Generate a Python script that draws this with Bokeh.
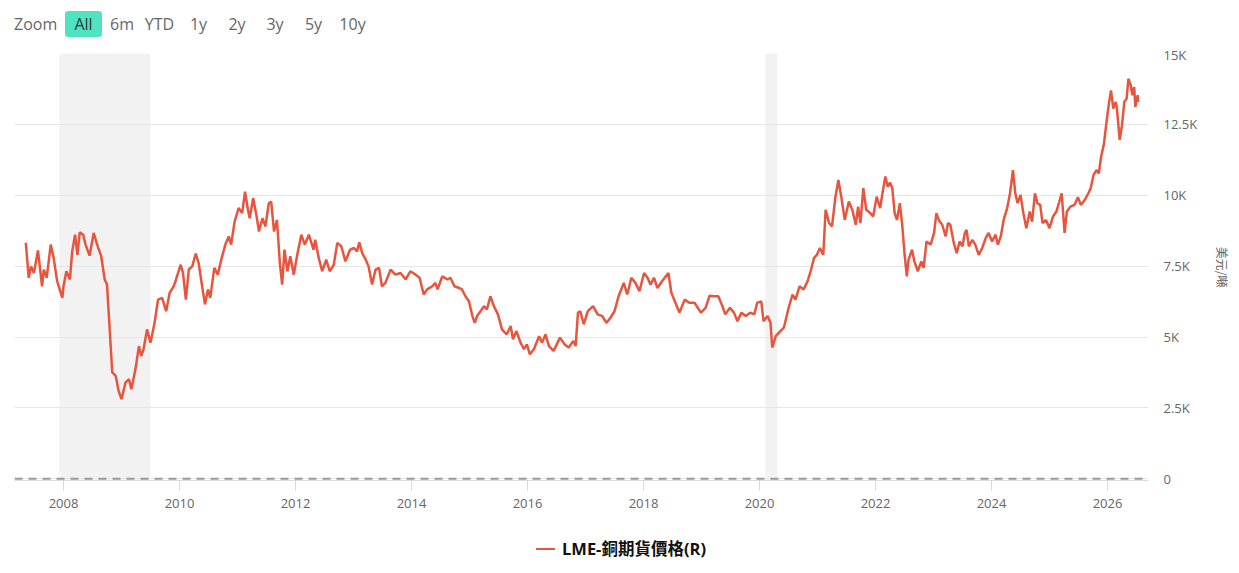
from bokeh.plotting import figure
from bokeh.models import (Range1d, FixedTicker, Span, BoxAnnotation, Div)
from bokeh.layouts import column
from bokeh.embed import file_html
from bokeh.resources import INLINE

# ---- data ----
dates = [
    2007.35, 2007.40, 2007.44, 2007.49, 2007.56, 2007.63, 2007.66, 2007.71, 2007.78, 2007.83,
    2007.89, 2007.98, 2008.00, 2008.05, 2008.11, 2008.15, 2008.20, 2008.24, 2008.28, 2008.34,
    2008.38, 2008.45, 2008.52, 2008.59, 2008.65, 2008.71, 2008.75, 2008.80, 2008.84, 2008.90,
    2008.95, 2009.00, 2009.07, 2009.13, 2009.17, 2009.24, 2009.30, 2009.34, 2009.38, 2009.44,
    2009.50, 2009.57, 2009.63, 2009.70, 2009.77, 2009.83, 2009.90, 2009.94, 2010.02, 2010.06,
    2010.11, 2010.16, 2010.22, 2010.28, 2010.33, 2010.39, 2010.44, 2010.49, 2010.53, 2010.60,
    2010.66, 2010.72, 2010.79, 2010.85, 2010.89, 2010.95, 2011.02, 2011.08, 2011.13, 2011.18,
    2011.21, 2011.27, 2011.33, 2011.37, 2011.43, 2011.48, 2011.54, 2011.58, 2011.63, 2011.68,
    2011.73, 2011.77, 2011.81, 2011.86, 2011.91, 2011.97, 2012.03, 2012.10, 2012.16, 2012.23,
    2012.31, 2012.34, 2012.40, 2012.46, 2012.53, 2012.59, 2012.66, 2012.72, 2012.79, 2012.86,
    2012.94, 2013.01, 2013.06, 2013.10, 2013.15, 2013.21, 2013.26, 2013.32, 2013.38, 2013.44,
    2013.49, 2013.55, 2013.64, 2013.72, 2013.81, 2013.90, 2013.98, 2014.07, 2014.14, 2014.21,
    2014.27, 2014.36, 2014.41, 2014.45, 2014.53, 2014.62, 2014.67, 2014.74, 2014.82, 2014.87,
    2014.93, 2014.99, 2015.05, 2015.09, 2015.13, 2015.19, 2015.25, 2015.30, 2015.36, 2015.42,
    2015.49, 2015.56, 2015.64, 2015.71, 2015.75, 2015.81, 2015.88, 2015.94, 2015.99, 2016.04,
    2016.11, 2016.20, 2016.25, 2016.31, 2016.37, 2016.45, 2016.56, 2016.64, 2016.71, 2016.79,
    2016.83, 2016.87, 2016.91, 2016.97, 2017.04, 2017.13, 2017.21, 2017.29, 2017.36, 2017.43,
    2017.50, 2017.57, 2017.66, 2017.72, 2017.79, 2017.86, 2017.93, 2018.01, 2018.07, 2018.12,
    2018.18, 2018.24, 2018.32, 2018.43, 2018.48, 2018.55, 2018.62, 2018.71, 2018.79, 2018.88,
    2018.99, 2019.07, 2019.14, 2019.22, 2019.29, 2019.36, 2019.41, 2019.49, 2019.56, 2019.62,
    2019.69, 2019.76, 2019.84, 2019.91, 2019.96, 2020.03, 2020.07, 2020.14, 2020.19, 2020.22,
    2020.28, 2020.36, 2020.42, 2020.51, 2020.57, 2020.62, 2020.69, 2020.76, 2020.83, 2020.89,
    2020.94, 2020.99, 2021.04, 2021.10, 2021.14, 2021.20, 2021.25, 2021.31, 2021.36, 2021.41,
    2021.47, 2021.54, 2021.60, 2021.66, 2021.70, 2021.74, 2021.79, 2021.84, 2021.91, 2021.96,
    2022.02, 2022.08, 2022.12, 2022.17, 2022.21, 2022.25, 2022.29, 2022.33, 2022.37, 2022.42,
    2022.46, 2022.50, 2022.54, 2022.57, 2022.63, 2022.67, 2022.73, 2022.79, 2022.83, 2022.88,
    2022.95, 2023.01, 2023.05, 2023.09, 2023.15, 2023.21, 2023.25, 2023.29, 2023.35, 2023.40,
    2023.45, 2023.50, 2023.54, 2023.57, 2023.61, 2023.67, 2023.72, 2023.78, 2023.84, 2023.90,
    2023.95, 2024.01, 2024.07, 2024.11, 2024.16, 2024.21, 2024.27, 2024.32, 2024.37, 2024.41,
    2024.45, 2024.50, 2024.55, 2024.60, 2024.66, 2024.70, 2024.75, 2024.79, 2024.84, 2024.88,
    2024.94, 2025.00, 2025.06, 2025.12, 2025.17, 2025.21, 2025.26, 2025.30, 2025.36, 2025.43,
    2025.49, 2025.54, 2025.61, 2025.67, 2025.71, 2025.76, 2025.81, 2025.85, 2025.89, 2025.94,
    2025.98, 2026.02, 2026.06, 2026.10, 2026.14, 2026.16, 2026.21, 2026.25, 2026.29, 2026.33,
    2026.36, 2026.40, 2026.43, 2026.46, 2026.48, 2026.52, 2026.53,
]
copper_price = [
    8320, 7090, 7490, 7260, 8060, 6790, 7380, 7090, 8260, 7790,
    6970, 6380, 6790, 7320, 7030, 8020, 8610, 7900, 8690, 8610,
    8260, 7870, 8670, 8200, 7850, 7030, 6850, 5150, 3750, 3630,
    3100, 2810, 3400, 3510, 3160, 3860, 4680, 4330, 4570, 5270,
    4800, 5500, 6320, 6380, 5910, 6560, 6790, 7030, 7550, 7260,
    6320, 7380, 7490, 7940, 7610, 6790, 6150, 6680, 6380, 7440,
    7200, 7730, 8260, 8550, 8260, 9070, 9550, 9370, 10130, 9490,
    9190, 9900, 9250, 8720, 9190, 8900, 9720, 9780, 8720, 9130,
    7610, 6850, 8080, 7320, 7850, 7200, 7900, 8610, 8260, 8610,
    8080, 8430, 7790, 7320, 7730, 7320, 7550, 8320, 8200, 7670,
    8080, 8140, 8020, 8340, 7960, 7730, 7490, 6850, 7380, 7440,
    6790, 6910, 7380, 7200, 7260, 7030, 7320, 7200, 7090, 6500,
    6680, 6790, 6910, 6680, 7140, 7030, 7090, 6790, 6730, 6680,
    6440, 6260, 5740, 5500, 5740, 5910, 6090, 5970, 6440, 6090,
    5800, 5270, 5090, 5390, 4920, 5210, 4800, 4570, 4740, 4390,
    4570, 5030, 4800, 5090, 4680, 4510, 4980, 4740, 4630, 4860,
    4680, 5860, 5910, 5450, 5910, 6090, 5800, 5740, 5500, 5680,
    5910, 6440, 6910, 6500, 7090, 6910, 6620, 7260, 7090, 6850,
    7090, 6730, 6970, 7260, 6560, 6210, 5860, 6320, 6210, 6210,
    5860, 6030, 6460, 6440, 6440, 6090, 5800, 6030, 5860, 5560,
    5860, 5740, 5860, 5800, 6210, 6260, 5560, 5740, 5500, 4630,
    5030, 5210, 5330, 6090, 6500, 6320, 6790, 6680, 6970, 7380,
    7790, 7900, 8140, 7900, 9490, 9020, 8900, 9950, 10540, 9950,
    9130, 9780, 9490, 8960, 9600, 9020, 10250, 9490, 9370, 9250,
    9950, 9550, 10070, 10660, 10300, 10450, 10250, 9370, 9130, 9720,
    8960, 7960, 7140, 7730, 8080, 7670, 7320, 7670, 7440, 8370,
    8260, 8670, 9370, 9130, 8960, 8550, 9020, 8960, 8320, 7960,
    8370, 8200, 8670, 8780, 8200, 8430, 8260, 7900, 8140, 8490,
    8670, 8370, 8610, 8260, 8550, 9130, 9550, 10070, 10890, 10070,
    9720, 10010, 9370, 8840, 9430, 9070, 10070, 9720, 9660, 9020,
    9130, 8840, 9250, 9430, 9780, 10070, 8670, 9430, 9600, 9660,
    9930, 9660, 9840, 10070, 10250, 10720, 10890, 10770, 11360, 11830,
    12530, 13170, 13700, 13060, 13290, 13120, 11950, 12470, 13290, 13410,
    14110, 13880, 13530, 13820, 13120, 13530, 13290,
]
recession_starts = [2007.93, 2020.10]
recession_ends = [2009.50, 2020.31]
x_tick_values = [2008, 2010, 2012, 2014, 2016, 2018, 2020, 2022, 2024, 2026]
x_tick_labels = ["2008", "2010", "2012", "2014", "2016", "2018", "2020", "2022", "2024", "2026"]
y_tick_values = [0, 2500, 5000, 7500, 10000, 12500, 15000]
y_tick_labels = ["0", "2.5K", "5K", "7.5K", "10K", "12.5K", "15K"]
zero_line = 0
series_name = "LME-銅期貨價格(R)"
y_title = "美元/噸"
range_buttons = ["All", "6m", "YTD", "1y", "2y", "3y", "5y", "10y"]

LINE_COLOR = "#e8553e"
TICK_FONT = "'Open Sans', 'Noto Sans CJK TC', sans-serif"
PAGE_W = 1236

# ---- range selector (decorative) ----
centers = [83.5, 122, 159.5, 198.5, 237, 275, 313.5, 352.5]
spans = ['<span style="position:absolute;left:14px;top:11px;height:26px;line-height:26px;">Zoom</span>']
for i, (lbl, c) in enumerate(zip(range_buttons, centers)):
    left = c - 18.5
    if i == 0:
        style = "background:#4fe3c2;color:#333;border-radius:3px;"
    else:
        style = "color:#666;"
    spans.append(
        f'<span style="position:absolute;left:{left}px;top:11px;width:37px;height:26px;'
        f'line-height:26px;text-align:center;{style}">{lbl}</span>')
top_div = Div(text=(f'<div style="position:relative;width:{PAGE_W}px;height:45px;'
                    "font-family:'Open Sans',sans-serif;font-size:16px;color:#666;\">"
                    + "".join(spans) + "</div>"),
              width=PAGE_W, height=45, margin=0)

# ---- figure ----
p = figure(width=PAGE_W, height=475,
           x_range=Range1d(2007.155, 2026.707), y_range=Range1d(-60, 15000),
           y_axis_location="right", output_backend="svg", toolbar_location=None,
           min_border_left=14, min_border_right=88, min_border_top=8, min_border_bottom=40,
           outline_line_color=None, background_fill_color="white", margin=0)

for s, e in zip(recession_starts, recession_ends):
    p.add_layout(BoxAnnotation(left=s, right=e, fill_color="#f2f2f2", fill_alpha=1.0,
                               line_color=None, level="image"))

r = p.line(dates, copper_price, line_color=LINE_COLOR, line_width=2.5)

p.add_layout(Span(location=zero_line, dimension="width", line_color="#999999",
                  line_width=2, line_dash="8 6"))

# grids
p.xgrid.visible = False
p.ygrid.grid_line_color = "#e6e6e6"
p.ygrid.grid_line_width = 1

# x axis
xa = p.xaxis[0]
xa.ticker = FixedTicker(ticks=x_tick_values)
xa.major_label_overrides = dict(zip(x_tick_values, x_tick_labels))
xa.axis_line_color = "#dcdcdc"
xa.major_tick_line_color = "#d8d8d8"
xa.major_tick_in = 0
xa.major_tick_out = 10
xa.minor_tick_line_color = None
xa.major_label_standoff = 8
xa.major_label_text_font = TICK_FONT
xa.major_label_text_font_size = "13px"
xa.major_label_text_color = "#666666"

# y axis (right)
ya = p.yaxis[0]
ya.ticker = FixedTicker(ticks=y_tick_values)
ya.major_label_overrides = dict(zip(y_tick_values, y_tick_labels))
ya.axis_line_color = None
ya.major_tick_line_color = None
ya.minor_tick_line_color = None
ya.major_tick_in = 0
ya.major_tick_out = 0
ya.major_label_standoff = 15
ya.major_label_text_font = TICK_FONT
ya.major_label_text_font_size = "13px"
ya.major_label_text_color = "#666666"
ya.axis_label = y_title
ya.axis_label_text_font = "'Noto Sans CJK TC', sans-serif"
ya.axis_label_text_font_size = "12px"
ya.axis_label_text_font_style = "normal"
ya.axis_label_text_color = "#666666"
ya.axis_label_standoff = 14

# ---- legend (below the chart, centred on the page) ----
legend_div = Div(text=(
    f'<div style="position:relative;width:{PAGE_W}px;height:50px;">'
    f'<span style="position:absolute;left:536px;top:28px;width:19px;height:2px;background:{LINE_COLOR};"></span>'
    f'<span style="position:absolute;left:562px;top:16px;height:26px;line-height:26px;white-space:nowrap;'
    f"font-weight:bold;font-size:16.5px;font-family:'Open Sans','Noto Sans CJK TC',sans-serif;color:#111;\">"
    f'{series_name}</span></div>'),
    width=PAGE_W, height=50, margin=0)

layout = column(top_div, p, legend_div, margin=0, spacing=0)
open("out.html", "w").write(file_html(layout, INLINE))
